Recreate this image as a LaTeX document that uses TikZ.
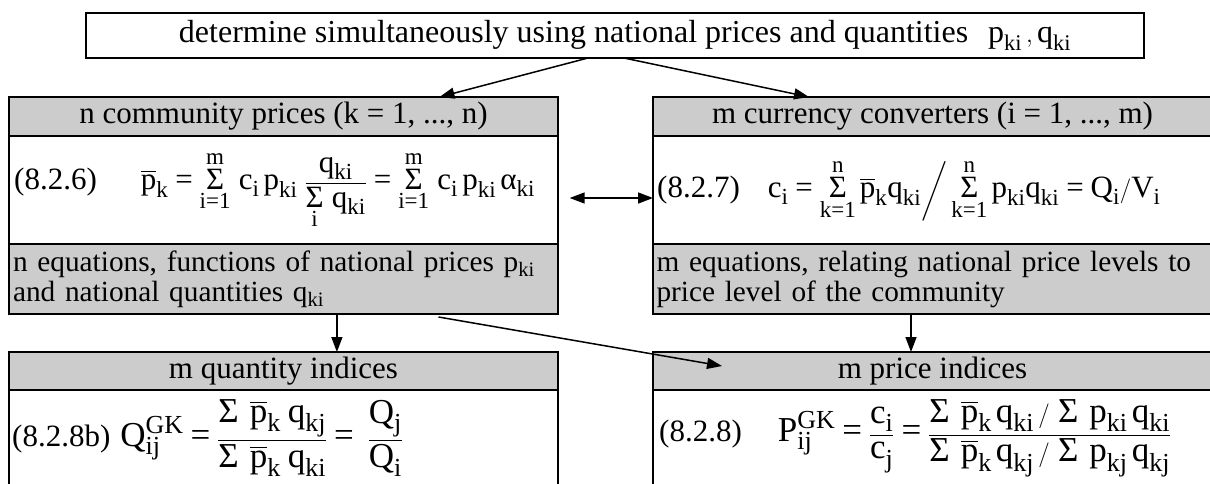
\documentclass[tikz,border=0pt]{standalone}
\usepackage{amsmath}
\usepackage{fontspec}
\setmainfont{Liberation Serif}
\usetikzlibrary{arrows.meta,calc}
\definecolor{hdrgray}{RGB}{204,204,204}
\DeclareMathSizes{31}{31}{23}{17}
\DeclareMathSizes{35}{35}{26}{19}
\newcommand{\mr}[1]{\text{#1}}
\newcommand{\eqs}{\mathrel{\text{=}}}
\newcommand{\Sg}{\mathop{\text{Σ}}}
\newcommand{\pb}{\overline{\text{p}}}
\newcommand{\bigmath}{\fontsize{35}{38}\selectfont}
\begin{document}
\begin{tikzpicture}[x=1pt,y=-1pt,
  box/.style={draw,line width=2pt,inner sep=0pt,outer sep=0pt,font=\fontsize{31}{34}\selectfont},
  hdr/.style={box,fill=hdrgray},
  body/.style={box,fill=white},
  foot/.style={hdr,font=\fontsize{29.3}{30}\selectfont,align=left},
  lbl/.style={inner sep=0pt,anchor=west,font=\fontsize{31}{34}\selectfont},
  arr/.style={line width=1.5pt,-{Triangle[length=15pt,width=11pt]}},
  darr/.style={line width=1.5pt,{Triangle[length=15pt,width=11pt]}-{Triangle[length=15pt,width=11pt]}}]
\useasboundingbox (0,0) rectangle (1210,484);
\clip (0,0) rectangle (1210,484);
% top box
\node[box,minimum width=1058pt,minimum height=45pt,font=\fontsize{32}{34}\selectfont] (top) at (615,35.5)
  {\hspace*{20pt}determine simultaneously using national prices and quantities\hspace{20pt}$\mr{p}_{\mr{ki}}\,,\mr{q}_{\mr{ki}}$};
% left column
\node[hdr,anchor=north west,minimum width=548.4pt,minimum height=39pt] (lh) at (9.3,97) {n community prices (k = 1, ..., n)};
\node[body,anchor=north west,minimum width=548.4pt,minimum height=108pt] (lb) at (lh.south west) {};
\node[foot,anchor=north west,minimum width=548.4pt,minimum height=70pt,text width=541pt] (lf) at (lb.south west)
  {n equations, functions of national prices p\textsubscript{ki}\\and national quantities q\textsubscript{ki}};
% right column
\node[hdr,anchor=north west,minimum width=559pt,minimum height=39pt] (rh) at (653,97) {m currency converters (i = 1, ..., m)};
\node[body,anchor=north west,minimum width=559pt,minimum height=108pt] (rb) at (rh.south west) {};
\node[foot,anchor=north west,minimum width=559pt,minimum height=70pt,text width=552pt] (rf) at (rb.south west)
  {m equations, relating national price levels to\\price level of the community};
% bottom boxes
\node[hdr,anchor=north west,minimum width=548.4pt,minimum height=38pt] (qh) at (9.3,352) {m quantity indices};
\node[body,anchor=north west,minimum width=548.4pt,minimum height=110pt] (qb) at (qh.south west) {};
\node[hdr,anchor=north west,minimum width=559pt,minimum height=38pt] (ph) at (653,352) {m price indices};
\node[body,anchor=north west,minimum width=559pt,minimum height=110pt] (pb) at (ph.south west) {};
% formulas
\node[lbl] (f6) at (14,190) {(8.2.6)\hspace*{44pt}$\pb_{\mr{k}} \eqs \Sg\limits_{\mr{i}\eqs\mr{1}}^{\mr{m}}\,\mr{c}_{\mr{i}}\,\mr{p}_{\mr{ki}}\;\displaystyle\frac{\;\mr{q}_{\mr{ki}}\;}{\Sg\limits_{\mr{i}}\,\mr{q}_{\mr{ki}}} \eqs \Sg\limits_{\mr{i}\eqs\mr{1}}^{\mr{m}}\,\mr{c}_{\mr{i}}\,\mr{p}_{\mr{ki}}\,\text{α}_{\mr{ki}}$};
\node[lbl] (f7) at (657,190) {(8.2.7)\hspace*{28pt}$\mr{c}_{\mr{i}} \eqs \Sg\limits_{\mr{k}\eqs\mr{1}}^{\mr{n}}\pb_{\mr{k}}\mr{q}_{\mr{ki}}\bigg/\Sg\limits_{\mr{k}\eqs\mr{1}}^{\mr{n}}\mr{p}_{\mr{ki}}\mr{q}_{\mr{ki}} \eqs \mr{Q}_{\mr{i}}/\mr{V}_{\mr{i}}$};
\node[lbl] (f8b) at (12,438) {(8.2.8b)\hspace*{10pt}{\bigmath$\mr{Q}_{\mr{ij}}^{\mr{GK}} \eqs \displaystyle\frac{\Sg\;\pb_{\mr{k}}\;\mr{q}_{\mr{kj}}}{\Sg\;\pb_{\mr{k}}\;\mr{q}_{\mr{ki}}} \eqs\; \frac{\mr{Q}_{\mr{j}}}{\mr{Q}_{\mr{i}}}$}};
\node[lbl] (f8) at (659,438) {(8.2.8)\hspace*{36pt}{\bigmath$\mr{P}_{\mr{ij}}^{\mr{GK}} \eqs \displaystyle\frac{\mr{c}_{\mr{i}}}{\mr{c}_{\mr{j}}} \eqs \frac{\Sg\;\pb_{\mr{k}}\,\mr{q}_{\mr{ki}}\,/\,\Sg\;\mr{p}_{\mr{ki}}\,\mr{q}_{\mr{ki}}}{\Sg\;\pb_{\mr{k}}\,\mr{q}_{\mr{kj}}\,/\,\Sg\;\mr{p}_{\mr{kj}}\,\mr{q}_{\mr{kj}}}$}};
% connectors
\draw[arr] ([xshift=-27pt]top.south) -- ([xshift=156pt]lh.north);
\draw[arr] ([xshift=9pt]top.south) -- ([xshift=-123.5pt]rh.north);
\draw[darr] ([xshift=12pt,yshift=-8pt]lb.east) -- ([yshift=-8pt]rb.west);
\draw[arr] ([xshift=53.4pt]lf.south) -- ([xshift=53.4pt]qh.north);
\draw[arr] ([xshift=-21.5pt]rf.south) -- ([xshift=-21.5pt]ph.north);
\draw[arr] ([xshift=155pt,yshift=-3pt]lf.south) -- ([xshift=-210.5pt,yshift=-14pt]ph.north);
\end{tikzpicture}
\end{document}
